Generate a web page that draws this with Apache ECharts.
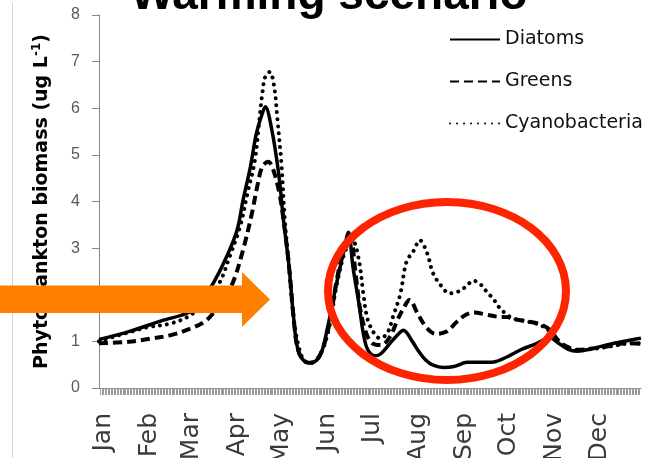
<!DOCTYPE html>
<html>
<head>
<meta charset="utf-8">
<script src="https://cdn.jsdelivr.net/npm/echarts@6/dist/echarts.min.js"></script>
<style>
  html, body { margin: 0; padding: 0; background: #fff; }
  #chart { width: 665px; height: 458px; }
</style>
</head>
<body>
<div id="chart"></div>
<script>
// Day-of-year positions of the month labels (each label sits a few days after the month start)
const monthStarts = [0, 31, 59, 90, 120, 151, 181, 212, 243, 273, 304, 334];
const monthNames = ['Jan', 'Feb', 'Mar', 'Apr', 'May', 'Jun', 'Jul', 'Aug', 'Sep', 'Oct', 'Nov', 'Dec'];
const labelShiftDays = 3;
const yTicks = [0, 1, 2, 3, 4, 5, 6, 7, 8];

// Diatoms biomass (ug/L) by day of year
const diatomDays = [0, 20, 42, 62, 69, 77, 86, 93, 97, 102, 106, 110, 112, 116, 121, 124, 128, 131, 134, 139, 143, 149, 154, 160, 165, 168, 171, 175, 178, 181, 186, 190, 196, 202, 205, 211, 215, 220, 225, 232, 239, 248, 257, 266, 275, 284, 293, 304, 309, 316, 322, 333, 344, 355, 365];
const diatomValues = [1.04, 1.21, 1.44, 1.64, 1.88, 2.25, 2.82, 3.39, 4.03, 4.75, 5.46, 5.89, 6.03, 5.6, 4.6, 3.67, 2.6, 1.53, 0.82, 0.56, 0.54, 0.70, 1.31, 2.25, 2.96, 3.34, 2.6, 1.82, 1.17, 0.82, 0.69, 0.74, 0.96, 1.17, 1.24, 1.0, 0.8, 0.6, 0.49, 0.44, 0.46, 0.55, 0.55, 0.56, 0.67, 0.82, 0.93, 1.07, 0.97, 0.83, 0.79, 0.85, 0.94, 1.01, 1.07];

// Greens biomass
const greenDays = [0, 20, 33, 49, 62, 71, 76, 83, 90, 97, 103, 107, 110, 114, 117, 121, 124, 128, 131, 134, 139, 143, 149, 155, 160, 165, 169, 173, 176, 180, 184, 190, 196, 201, 207, 209, 215, 221, 227, 234, 241, 247, 253, 260, 268, 275, 281, 288, 297, 304, 309, 315, 322, 333, 344, 355, 365];
const greenValues = [0.96, 0.99, 1.05, 1.14, 1.28, 1.42, 1.57, 1.88, 2.25, 2.96, 3.75, 4.39, 4.75, 4.85, 4.71, 4.25, 3.67, 2.6, 1.53, 0.82, 0.56, 0.54, 0.72, 1.35, 2.3, 3.0, 3.25, 2.39, 1.67, 1.17, 0.96, 0.92, 1.1, 1.46, 1.82, 1.89, 1.57, 1.28, 1.16, 1.21, 1.42, 1.57, 1.62, 1.58, 1.53, 1.52, 1.47, 1.43, 1.37, 1.24, 1.03, 0.89, 0.82, 0.85, 0.9, 0.96, 0.95];

// Cyanobacteria biomass
const cyanoDays = [0, 31, 49, 62, 71, 81, 88, 95, 100, 105, 108, 110, 112, 115, 118, 120, 123, 125, 128, 131, 135, 139, 143, 149, 155, 160, 166, 171, 175, 178, 181, 186, 189, 194, 198, 203, 207, 212, 216, 221, 225, 231, 236, 242, 247, 252, 256, 261, 266, 270, 275, 279, 288, 297, 304, 309, 315, 322, 333, 344, 355, 365];
const cyanoValues = [1.0, 1.29, 1.39, 1.57, 1.85, 2.25, 2.82, 3.46, 4.18, 4.89, 5.75, 6.32, 6.68, 6.78, 6.46, 5.82, 4.75, 3.67, 2.6, 1.53, 0.82, 0.57, 0.55, 0.72, 1.3, 2.2, 2.95, 3.14, 2.75, 2.03, 1.46, 1.14, 1.07, 1.17, 1.53, 2.03, 2.7, 2.95, 3.17, 2.89, 2.46, 2.17, 2.03, 2.07, 2.17, 2.3, 2.25, 2.07, 1.89, 1.71, 1.57, 1.49, 1.43, 1.35, 1.2, 1.0, 0.87, 0.81, 0.84, 0.89, 0.95, 0.96];

const pairs = (xs, ys) => xs.map((x, i) => [x, ys[i]]);

const chart = echarts.init(document.getElementById('chart'), null, { renderer: 'canvas' });

chart.setOption({
  animation: false,
  backgroundColor: '#ffffff',
  grid: { left: 99, right: 24, top: 15, bottom: 70, containLabel: false, outerBoundsMode: 'none' },
  legend: {
    data: ['Diatoms', 'Greens', 'Cyanobacteria'],
    orient: 'vertical',
    left: 444,
    top: 25,
    itemWidth: 50,
    itemHeight: 14,
    itemGap: 23,
    itemStyle: { opacity: 0 },
    textStyle: { fontFamily: 'DejaVu Sans', fontSize: 19, color: '#111' }
  },
  xAxis: {
    type: 'value',
    min: 0,
    max: 365,
    interval: 1,
    splitLine: { show: false },
    axisLine: { show: true, lineStyle: { color: '#868686', width: 1 } },
    axisTick: { show: true, length: 7, lineStyle: { color: '#9a9a9a', width: 1 } },
    axisLabel: {
      rotate: 90,
      margin: 25,
      fontFamily: 'DejaVu Sans',
      fontSize: 25,
      color: '#3a3a3a',
      showMinLabel: false,
      showMaxLabel: false,
      formatter: function (v) {
        const k = monthStarts.indexOf(Math.round(v) - labelShiftDays);
        return k >= 0 ? monthNames[k] : '';
      }
    }
  },
  yAxis: {
    type: 'value',
    min: yTicks[0],
    max: yTicks[yTicks.length - 1],
    interval: 1,
    splitLine: { show: false },
    axisLine: { show: true, lineStyle: { color: '#868686', width: 1 } },
    axisTick: { show: true, length: 7, lineStyle: { color: '#868686', width: 1 } },
    axisLabel: { margin: 19, fontFamily: 'Liberation Sans', fontSize: 16, color: '#595959' },
    name: '{a|Phytoplankton biomass (ug L}{s|-1}{a|)}',
    nameLocation: 'middle',
    nameRotate: 90,
    nameGap: 46,
    nameTextStyle: {
      rich: {
        a: { fontFamily: 'DejaVu Sans', fontWeight: 'bold', fontSize: 19, color: '#000', lineHeight: 22 },
        s: { fontFamily: 'DejaVu Sans', fontWeight: 'bold', fontSize: 12, color: '#000', lineHeight: 12, verticalAlign: 'top' }
      }
    }
  },
  series: [
    {
      name: 'Diatoms', type: 'line', data: pairs(diatomDays, diatomValues),
      symbol: 'none', smooth: 0.35, z: 3,
      lineStyle: { color: '#000', width: 3.5, type: 'solid' },
      itemStyle: { color: '#000' }
    },
    {
      name: 'Greens', type: 'line', data: pairs(greenDays, greenValues),
      symbol: 'none', smooth: 0.35, z: 2,
      lineStyle: { color: '#000', width: 4, type: [9, 5] },
      itemStyle: { color: '#000' }
    },
    {
      name: 'Cyanobacteria', type: 'line', data: pairs(cyanoDays, cyanoValues),
      symbol: 'none', smooth: 0.35, z: 1,
      lineStyle: { color: '#000', width: 4, type: [0.01, 7], cap: 'round' },
      itemStyle: { color: '#000' }
    }
  ],
  graphic: [
    // slide frame edge
    { type: 'line', z: 0, silent: true, shape: { x1: 12.5, y1: 3, x2: 12.5, y2: 458 }, style: { stroke: '#d4d4d4', lineWidth: 1 } },
    // heading, partly above the visible area
    {
      type: 'text', z: 50, silent: true, x: 329, y: -27,
      style: { text: 'Warming scenario', font: 'bold 46px "Liberation Sans"', fill: '#000', align: 'center', verticalAlign: 'top' }
    },
    // orange arrow pointing at the spring bloom
    {
      type: 'polygon', z: 100, silent: true,
      shape: { points: [[0, 285.5], [242, 285.5], [242, 272], [270, 299.5], [242, 327], [242, 313], [0, 313]] },
      style: { fill: '#ff8000' }
    },
    // red ellipse around the summer period
    {
      type: 'ellipse', z: 100, silent: true,
      shape: { cx: 447, cy: 291, rx: 119, ry: 89 },
      style: { fill: null, stroke: '#ff2400', lineWidth: 8 }
    }
  ]
});
</script>
</body>
</html>
